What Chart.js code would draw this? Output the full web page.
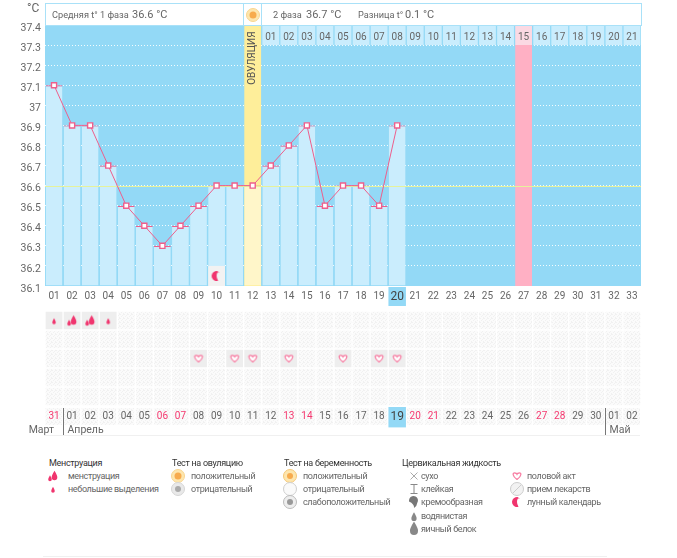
<!DOCTYPE html>
<html lang="ru">
<head>
<meta charset="utf-8">
<title>График базальной температуры</title>
<script src="https://cdn.jsdelivr.net/npm/chart.js@4"></script>
<style>
    html, body { margin: 0; padding: 0; background: #fff; }
    body { position: relative; width: 677px; height: 558px; overflow: hidden; font-family: Roboto, sans-serif; color: #666; }
    canvas { position: absolute; left: 0; }
    #grafica { top: 0; }
    #tabla { top: 306px; }
    .abs { position: absolute; white-space: nowrap; line-height: 12px; }
    .caja { position: absolute; top: 3px; height: 21px; background: #fff; border: 1px solid #a9e1f8; }
    .h { font-size: 9.2px; }
    .t { font-size: 9px; letter-spacing: -0.35px; }
    .n { font-size: 11px; }
    .tit { font-size: 9px; letter-spacing: -0.3px; color: #333; }
</style>
</head>
<body>
<canvas id="grafica" width="677" height="306"></canvas>
<canvas id="tabla" width="677" height="130"></canvas>

<div class="caja" style="left:45px;width:197px"></div>
<div class="caja" style="left:243px;width:17px"></div>
<div class="caja" style="left:261px;width:379px"></div>
<div class="abs n" style="left:27px;top:2px;font-size:12px">°C</div>
<div class="abs h" style="left:52px;top:9px">Средняя t° 1 фаза</div>
<div class="abs n" style="left:132px;top:9px">36.6 °C</div>
<div class="abs h" style="left:273px;top:9px">2 фаза</div>
<div class="abs n" style="left:306px;top:9px">36.7 °C</div>
<div class="abs h" style="left:358px;top:9px">Разница t°</div>
<div class="abs n" style="left:405px;top:9px">0.1 °C</div>
<div class="abs" style="left:44px;top:435px;width:596px;border-top:1px solid #f0f0f0"></div>
<div class="abs" style="left:43px;top:556px;width:564px;border-top:1px solid #f0f0f0"></div>
<div id="leyenda"></div>

<script>
const dias = ['01','02','03','04','05','06','07','08','09','10','11','12','13','14','15','16','17','18','19','20','21','22','23','24','25','26','27','28','29','30','31','32','33'];
const fechas = ['31','01','02','03','04','05','06','07','08','09','10','11','12','13','14','15','16','17','18','19','20','21','22','23','24','25','26','27','28','29','30','01','02'];
const finDeSemana = [0, 6, 7, 13, 14, 20, 21, 27, 28];
const temperaturas = [37.1, 36.9, 36.9, 36.7, 36.5, 36.4, 36.3, 36.4, 36.5, 36.6, 36.6, 36.6, 36.7, 36.8, 36.9, 36.5, 36.6, 36.6, 36.5, 36.9];
const ticksY = [36.1, 36.2, 36.3, 36.4, 36.5, 36.6, 36.7, 36.8, 36.9, 37, 37.1, 37.2, 37.3, 37.4];
const fase2 = ['01','02','03','04','05','06','07','08','09','10','11','12','13','14','15','16','17','18','19','20','21'];
const promedio = 36.6;
const diaOvulacion = 11;
const diaMensual = 26;
const diaHoy = 19;
const diaLuna = 9;
const diasGrandes = [1, 2];
const diasPequenos = [0, 3];
const diasCorazon = [8, 10, 11, 13, 16, 18, 19];
const meses = ['Март', 'Апрель', 'Май'];
const inicioMes = [0, 1, 31];

const AZUL = '#93d9f6';
const CELESTE = '#caedfd';
const ROSA = '#ee5f8c';
const ROJO = '#f5386f';
const TEXTO = '#666';
const FUENTE = 'Roboto, sans-serif';

function lienzo(w, h, dibujar) {
    let c = document.createElement('canvas');
    c.width = w;
    c.height = h;
    dibujar(c.getContext('2d'));
    return c;
}

function gota(ctx, x, y, r, color) {
    ctx.fillStyle = color;
    ctx.beginPath();
    ctx.moveTo(x, y - r * 2.4);
    ctx.quadraticCurveTo(x + r * 1.1, y - r * 0.6, x + r, y);
    ctx.arc(x, y, r, 0, Math.PI);
    ctx.quadraticCurveTo(x - r * 1.1, y - r * 0.6, x, y - r * 2.4);
    ctx.fill();
}

function circulo(ctx, r, relleno, borde) {
    ctx.beginPath();
    ctx.arc(8, 8, r, 0, Math.PI * 2);
    if (relleno) {
        ctx.fillStyle = relleno;
        ctx.fill();
    }
    if (borde) {
        ctx.strokeStyle = borde;
        ctx.stroke();
    }
}

const iconos = {
    grande: () => lienzo(16, 16, ctx => {
        gota(ctx, 9.5, 9.5, 2.8, '#f0356e');
        gota(ctx, 5, 11.5, 1.8, '#f0356e');
    }),
    pequena: () => lienzo(16, 16, ctx => gota(ctx, 8, 10, 1.8, '#f0356e')),
    corazon: () => lienzo(16, 16, ctx => {
        ctx.fillStyle = '#fff';
        ctx.strokeStyle = '#f77ea3';
        ctx.lineWidth = 1.3;
        ctx.beginPath();
        ctx.moveTo(8, 11.5);
        ctx.bezierCurveTo(3, 8, 3.5, 4.5, 6, 5);
        ctx.quadraticCurveTo(7.5, 5.2, 8, 6.2);
        ctx.quadraticCurveTo(8.5, 5.2, 10, 5);
        ctx.bezierCurveTo(12.5, 4.5, 13, 8, 8, 11.5);
        ctx.fill();
        ctx.stroke();
    }),
    luna: () => lienzo(16, 16, ctx => {
        ctx.fillStyle = '#f0356e';
        ctx.beginPath();
        ctx.arc(8, 8, 5, Math.PI * 0.4, Math.PI * 1.6);
        ctx.quadraticCurveTo(6.5, 8, 9.5, 12.8);
        ctx.fill();
        ctx.fillStyle = '#f9a9c2';
        ctx.fillRect(9, 4, 1.5, 1);
    }),
    solNaranja: () => lienzo(16, 16, ctx => {
        circulo(ctx, 6.5, '#fde6ae', '#f8d58f');
        circulo(ctx, 3.5, '#f7ab4d');
    }),
    gris: () => lienzo(16, 16, ctx => {
        circulo(ctx, 6.5, '#e9e9e9', '#d5d5d5');
        circulo(ctx, 3, '#aaa');
    }),
    solEmbarazo: () => lienzo(16, 16, ctx => {
        circulo(ctx, 6.5, '#fde6ae', '#f5c778');
        circulo(ctx, 3, '#f7ab4d');
    }),
    blanco: () => lienzo(16, 16, ctx => circulo(ctx, 6.5, '#fafafa', '#cfcfcf')),
    debil: () => lienzo(16, 16, ctx => {
        circulo(ctx, 6.5, '#eee', '#bbb');
        circulo(ctx, 3, '#999');
    }),
    seco: () => lienzo(16, 16, ctx => {
        ctx.strokeStyle = '#aaa';
        ctx.beginPath();
        ctx.moveTo(4.5, 4.5);
        ctx.lineTo(11.5, 11.5);
        ctx.moveTo(11.5, 4.5);
        ctx.lineTo(4.5, 11.5);
        ctx.stroke();
    }),
    pegajosa: () => lienzo(16, 16, ctx => {
        ctx.strokeStyle = '#888';
        ctx.beginPath();
        ctx.moveTo(4.5, 3.5);
        ctx.lineTo(11.5, 3.5);
        ctx.moveTo(8, 3.5);
        ctx.lineTo(8, 12.5);
        ctx.moveTo(4.5, 12.5);
        ctx.lineTo(11.5, 12.5);
        ctx.stroke();
    }),
    cremosa: () => lienzo(16, 16, ctx => {
        ctx.fillStyle = '#777';
        ctx.beginPath();
        ctx.arc(7.5, 6.5, 4.5, Math.PI * 0.9, Math.PI * 2.2);
        ctx.quadraticCurveTo(11, 12, 8, 14);
        ctx.quadraticCurveTo(8.5, 10, 3, 7.5);
        ctx.fill();
    }),
    acuosa: () => lienzo(16, 16, ctx => gota(ctx, 8, 10.5, 2.6, '#888')),
    clara: () => lienzo(16, 16, ctx => gota(ctx, 8, 10, 4, '#888')),
    pastilla: () => lienzo(16, 16, ctx => {
        circulo(ctx, 6.5, '#f2f2f2', '#ccc');
        ctx.strokeStyle = '#ccc';
        ctx.beginPath();
        ctx.moveTo(4, 12);
        ctx.lineTo(12, 4);
        ctx.stroke();
    })
};

const leyenda = [
    { x: 49, xIcono: 45, xTexto: 68, titulo: 'Менструация', items: [['менструация', 'grande'], ['небольшие выделения', 'pequena']] },
    { x: 172, xIcono: 170, xTexto: 191, titulo: 'Тест на овуляцию', items: [['положительный', 'solNaranja'], ['отрицательный', 'gris']] },
    { x: 284, xIcono: 282, xTexto: 303, titulo: 'Тест на беременность', items: [['положительный', 'solEmbarazo'], ['отрицательный', 'blanco'], ['слабоположительный', 'debil']] },
    { x: 402, xIcono: 406, xTexto: 421, titulo: 'Цервикальная жидкость', items: [['сухо', 'seco'], ['клейкая', 'pegajosa'], ['кремообразная', 'cremosa'], ['водянистая', 'acuosa'], ['яичный белок', 'clara']] },
    { x: 0, xIcono: 509, xTexto: 527, titulo: '', items: [['половой акт', 'corazon'], ['прием лекарств', 'pastilla'], ['лунный календарь', 'luna']] }
];

let contenedor = document.getElementById('leyenda');
function agregarTexto(texto, x, y, clase) {
    let d = document.createElement('div');
    d.className = 'abs ' + clase;
    d.style.left = x + 'px';
    d.style.top = y + 'px';
    d.textContent = texto;
    contenedor.appendChild(d);
}
function agregarIcono(nombre, x, y) {
    let c = iconos[nombre]();
    c.style.left = x + 'px';
    c.style.top = y + 'px';
    contenedor.appendChild(c);
}
for (let grupo of leyenda) {
    if (grupo.titulo) agregarTexto(grupo.titulo, grupo.x, 457, 'tit');
    grupo.items.forEach((item, i) => {
        let y = 476 + i * 13.2;
        agregarTexto(item[0], grupo.xTexto, y - 6, 't');
        agregarIcono(item[1], grupo.xIcono, y - 8);
    });
}
agregarIcono('solNaranja', 245, 7);

// fondo tramado de las celdas
const trama = lienzo(4, 4, ctx => {
    ctx.fillStyle = '#fbfbfb';
    ctx.fillRect(0, 0, 4, 4);
    ctx.fillStyle = '#f1f1f1';
    [[0, 0], [2, 1], [1, 2], [3, 3], [3, 0]].forEach(p => ctx.fillRect(p[0], p[1], 1, 1));
});
const patron = document.createElement('canvas').getContext('2d').createPattern(trama, 'repeat');

const decoracionGrafica = {
    id: 'decoracionGrafica',
    beforeDraw(chart) {
        const { ctx, chartArea: a } = chart;
        ctx.save();
        ctx.fillStyle = AZUL;
        ctx.fillRect(a.left, a.top, a.right - a.left, a.bottom - a.top);
        ctx.restore();
    },
    beforeDatasetDraw(chart, args) {
        // linea de promedio, justo debajo de la curva
        if (chart.data.datasets[args.index].label !== 'Температура') return;
        const { ctx, chartArea: a, scales: { y } } = chart;
        ctx.save();
        ctx.strokeStyle = '#e6f29b';
        ctx.lineWidth = 1;
        ctx.beginPath();
        ctx.moveTo(a.left, Math.round(y.getPixelForValue(promedio)) + 0.5);
        ctx.lineTo(a.right, Math.round(y.getPixelForValue(promedio)) + 0.5);
        ctx.stroke();
        ctx.restore();
    },
    afterDatasetsDraw(chart) {
        const { ctx, scales: { x, y } } = chart;
        ctx.save();
        ctx.font = '10px ' + FUENTE;
        ctx.fillStyle = TEXTO;
        ctx.textAlign = 'center';
        ctx.textBaseline = 'middle';
        fase2.forEach((txt, i) => {
            ctx.fillText(txt, x.getPixelForValue(diaOvulacion + 1 + i), y.getPixelForValue(37.35) + 2);
        });
        ctx.translate(x.getPixelForValue(diaOvulacion), y.getPixelForValue(37.235));
        ctx.rotate(-Math.PI / 2);
        ctx.fillStyle = '#555';
        ctx.fillText('ОВУЛЯЦИЯ', 0, 0);
        ctx.restore();
    }
};

const ctx = document.getElementById('grafica').getContext('2d');
new Chart(ctx, {
    type: 'bar',
    data: {
        labels: dias,
        datasets: [
            {
                label: 'Температура',
                type: 'line',
                data: temperaturas,
                borderColor: ROSA,
                borderWidth: 1,
                tension: 0,
                pointStyle: 'rect',
                pointRadius: 3.6,
                pointBackgroundColor: '#fff',
                pointBorderColor: ROSA,
                pointBorderWidth: 1.4,
                order: 1
            },
            {
                label: 'Луна',
                type: 'line',
                data: dias.map((d, i) => i === diaLuna ? 36.15 : null),
                showLine: false,
                pointStyle: iconos.luna(),
                order: 0
            },
            {
                label: 'Ячейка луны',
                data: dias.map((d, i) => i === diaLuna ? [36.1, 36.2] : null),
                backgroundColor: '#f2f2f2',
                order: 2
            },
            {
                label: 'Столбцы',
                data: temperaturas,
                base: 36.1,
                backgroundColor: c => c.dataIndex === diaOvulacion ? '#fff6c9' : CELESTE,
                borderColor: ROSA,
                borderWidth: { top: 1.2, right: 0, bottom: 0, left: 0 },
                order: 3
            },
            {
                label: 'Овуляция',
                data: dias.map((d, i) => i === diaOvulacion ? [36.1, 37.4] : null),
                backgroundColor: '#feee9a',
                order: 4
            },
            {
                label: 'Менструация',
                data: dias.map((d, i) => i === diaMensual ? [36.1, 37.3] : null),
                backgroundColor: '#ffb0c4',
                order: 5
            },
            {
                label: 'Фаза 2',
                data: dias.map((d, i) => i > diaOvulacion ? [37.3, 37.4] : null),
                backgroundColor: c => c.dataIndex === diaMensual ? '#fbd9e3' : CELESTE,
                order: 6
            }
        ]
    },
    options: {
        responsive: false,
        animation: false,
        devicePixelRatio: 1,
        grouped: false,
        barPercentage: 0.93,
        categoryPercentage: 1,
        layout: { padding: { top: 25, right: 36, left: 0, bottom: 0 } },
        plugins: { legend: { display: false }, tooltip: { enabled: false } },
        scales: {
            x: {
                grid: { display: false, drawTicks: false },
                border: { display: false },
                afterFit: s => { s.height = 20; },
                ticks: {
                    autoSkip: false,
                    maxRotation: 0,
                    padding: 4,
                    color: c => c.index === diaHoy ? '#444' : TEXTO,
                    font: c => ({ family: FUENTE, size: c.index === diaHoy ? 12 : 10 }),
                    showLabelBackdrop: c => c.index === diaHoy,
                    backdropColor: AZUL,
                    backdropPadding: { x: 2, y: 3 }
                }
            },
            y: {
                min: 36.1,
                max: 37.4,
                afterFit: s => { s.width = 45; },
                afterBuildTicks: s => { s.ticks = ticksY.map(v => ({ value: v })); },
                grid: {
                    drawTicks: false,
                    color: c => (c.tick.value === 36.1 || c.tick.value === 37.4) ? 'transparent' : 'rgba(255,255,255,0.9)'
                },
                border: { display: false, dash: [1, 2] },
                ticks: {
                    padding: 4,
                    labelOffset: 3,
                    color: TEXTO,
                    font: { family: FUENTE, size: 10.5 },
                    callback: v => String(v)
                }
            }
        }
    },
    plugins: [decoracionGrafica]
});

const decoracionTabla = {
    id: 'decoracionTabla',
    beforeDraw(chart) {
        const { ctx, chartArea: a, scales: { x } } = chart;
        const ancho = x.getPixelForValue(1) - x.getPixelForValue(0);
        ctx.save();
        ctx.fillStyle = patron;
        fechas.forEach((f, i) => {
            ctx.fillRect(x.getPixelForValue(i) - ancho / 2 + 0.5, a.bottom + 2, ancho - 1.5, 17);
        });
        ctx.restore();
    },
    afterDraw(chart) {
        const { ctx, chartArea: a, scales: { x } } = chart;
        const ancho = x.getPixelForValue(1) - x.getPixelForValue(0);
        ctx.save();
        ctx.font = '10.5px ' + FUENTE;
        ctx.textBaseline = 'middle';
        meses.forEach((mes, i) => {
            let px = Math.round(x.getPixelForValue(inicioMes[i]) - ancho / 2) + 0.5;
            ctx.fillStyle = TEXTO;
            if (i === 0) {
                ctx.textAlign = 'right';
                ctx.fillText(mes, x.getPixelForValue(1) - ancho / 2 - 9, a.bottom + 24);
                return;
            }
            ctx.textAlign = 'left';
            ctx.fillText(mes, px + 4, a.bottom + 24);
            ctx.strokeStyle = '#777';
            ctx.beginPath();
            ctx.moveTo(px, a.bottom + 2);
            ctx.lineTo(px, a.bottom + 30);
            ctx.stroke();
        });
        ctx.restore();
    }
};

// filas de sintomas: la fila 4 es la de arriba
let filas = [0, 1, 2, 3, 4].map(f => ({
    label: 'Fila ' + f,
    data: fechas.map(() => [f + 0.04, f + 0.96]),
    backgroundColor: c => {
        if (f === 4 && (diasGrandes.includes(c.dataIndex) || diasPequenos.includes(c.dataIndex))) return '#eeeeee';
        if (f === 2 && diasCorazon.includes(c.dataIndex)) return '#eeeeee';
        return patron;
    },
    order: 5
}));

function puntos(nombre, lista, fila, icono) {
    return {
        label: nombre,
        type: 'line',
        data: fechas.map((f, i) => lista.includes(i) ? fila : null),
        showLine: false,
        pointStyle: iconos[icono](),
        order: 1
    };
}

const ctx2 = document.getElementById('tabla').getContext('2d');
new Chart(ctx2, {
    type: 'bar',
    data: {
        labels: fechas,
        datasets: [
            puntos('Менструация', diasGrandes, 4.5, 'grande'),
            puntos('Выделения', diasPequenos, 4.5, 'pequena'),
            puntos('Половой акт', diasCorazon, 2.5, 'corazon'),
            ...filas
        ]
    },
    options: {
        responsive: false,
        animation: false,
        devicePixelRatio: 1,
        grouped: false,
        barPercentage: 0.93,
        categoryPercentage: 1,
        layout: { padding: { top: 2, right: 36, left: 45, bottom: 0 } },
        plugins: { legend: { display: false }, tooltip: { enabled: false } },
        scales: {
            x: {
                grid: { display: false, drawTicks: false },
                border: { display: false },
                afterFit: s => { s.height = 30; },
                ticks: {
                    autoSkip: false,
                    maxRotation: 0,
                    padding: 4,
                    z: 1,
                    color: c => c.index === diaHoy ? '#444' : (finDeSemana.includes(c.index) ? ROJO : TEXTO),
                    font: c => ({ family: FUENTE, size: c.index === diaHoy ? 12 : 10 }),
                    showLabelBackdrop: c => c.index === diaHoy,
                    backdropColor: AZUL,
                    backdropPadding: { x: 2, y: 3 }
                }
            },
            y: { display: false, min: 0, max: 5 }
        }
    },
    plugins: [decoracionTabla]
});
</script>
</body>
</html>
